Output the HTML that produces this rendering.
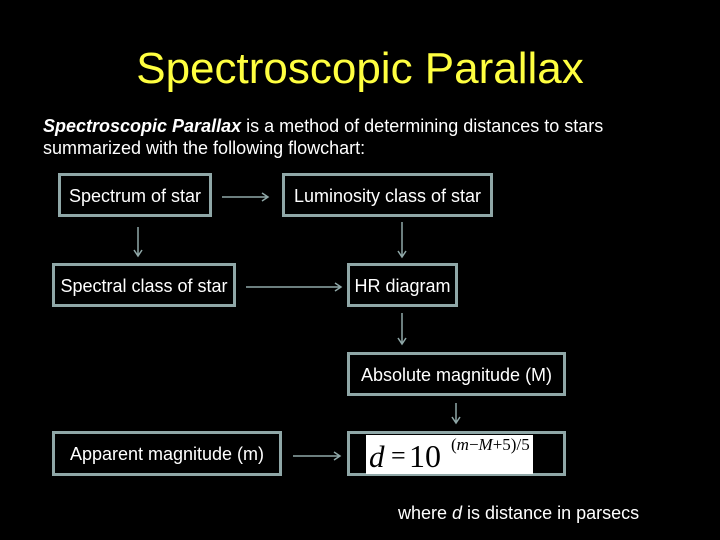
<!DOCTYPE html>
<html><head><style>
body{margin:0;width:720px;height:540px;background:#000;overflow:hidden;position:relative;font-family:"Liberation Sans",sans-serif;color:#fff}
.t{position:absolute;left:0;width:720px;top:44px;text-align:center;color:#ffff40;font-size:44px}
.p{position:absolute;left:43px;top:115px;font-size:18px;line-height:22px}
.b{position:absolute;border:3px solid #8fa7a7;box-sizing:border-box;display:flex;align-items:center;justify-content:center;font-size:18px;padding-top:2px}
.f{position:absolute;left:366px;top:435px;width:167px;height:39px;background:#fff;color:#000;font-family:"Liberation Serif",serif}
</style></head><body>
<div class="t">Spectroscopic Parallax</div>
<div class="p"><b><i>Spectroscopic Parallax</i></b> is a method of determining distances to stars<br>summarized with the following flowchart:</div>
<div class="b" style="left:58px;top:173px;width:154px;height:44px">Spectrum of star</div>
<div class="b" style="left:282px;top:173px;width:211px;height:44px">Luminosity class of star</div>
<div class="b" style="left:52px;top:263px;width:184px;height:44px">Spectral class of star</div>
<div class="b" style="left:347px;top:263px;width:111px;height:44px">HR diagram</div>
<div class="b" style="left:347px;top:352px;width:219px;height:44px">Absolute magnitude (M)</div>
<div class="b" style="left:347px;top:431px;width:219px;height:45px"></div>
<div class="b" style="left:52px;top:431px;width:230px;height:45px">Apparent magnitude (m)</div>
<div class="f"><span style="position:absolute;left:3px;top:4px;font-size:31px;font-style:italic">d</span><span style="position:absolute;left:25px;top:6px;font-size:26px">=</span><span style="position:absolute;left:43px;top:3px;font-size:32px">10</span><span style="position:absolute;left:85px;top:0px;font-size:17px;white-space:nowrap">(<i>m</i>−<i>M</i>+5)/5</span></div>
<svg width="720" height="540" style="position:absolute;left:0;top:0" fill="none" stroke="#8fa7a7" stroke-width="1.5">
<path d="M222 197H268M262 193L268 197L262 201"/>
<path d="M138 227V256M134 250L138 256L142 250"/>
<path d="M402 222V257M398 251L402 257L406 251"/>
<path d="M246 287H341M335 283L341 287L335 291"/>
<path d="M402 313V344M398 338L402 344L406 338"/>
<path d="M456 403V423M452 417L456 423L460 417"/>
<path d="M293 456H340M334 452L340 456L334 460"/>
</svg>
<div style="position:absolute;left:398px;top:503px;font-size:18px">where <i>d</i> is distance in parsecs</div>
</body></html>
